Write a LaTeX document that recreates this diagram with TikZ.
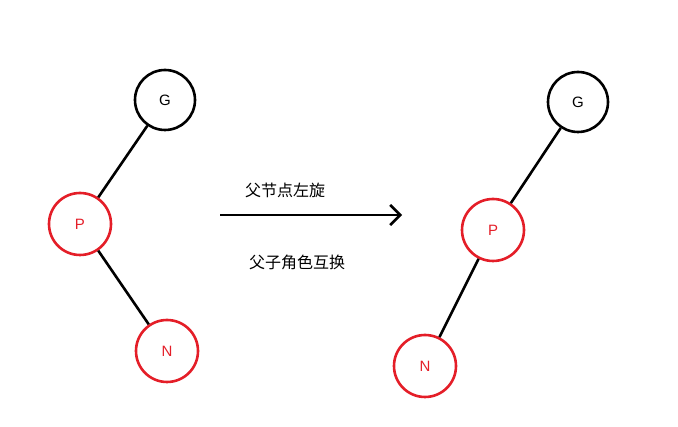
\documentclass[tikz,border=0pt]{standalone}
\usetikzlibrary{arrows.meta}
\usepackage{fontspec}
\setmainfont{Liberation Sans}
\newfontfamily\cjk{Noto Sans CJK SC}
\definecolor{rd}{RGB}{228,30,40}
\begin{document}
\begin{tikzpicture}[x=1pt,y=-1pt,
  bk/.style={circle,draw=black,line width=2.6pt,minimum size=60pt,inner sep=0pt,font=\fontsize{15}{15}\selectfont},
  rn/.style={circle,draw=rd,line width=2.6pt,minimum size=62pt,inner sep=0pt,text=rd,font=\fontsize{15}{15}\selectfont},
  edge/.style={line width=2.6pt},
  lab/.style={font=\cjk\fontsize{16}{16}\selectfont}]
\useasboundingbox (0,0) rectangle (678,427);
\node[bk] (g1) at (165,100) {G};
\node[rn] (p1) at (80,224) {P};
\node[rn] (n1) at (167,351) {N};
\draw[edge] (g1) -- (p1);
\draw[edge] (p1) -- (n1);
\node[bk] (g2) at (578,102) {G};
\node[rn] (p2) at (493,230) {P};
\node[rn] (n2) at (425,366) {N};
\draw[edge] (g2) -- (p2);
\draw[edge] (p2) -- (n2);
\coordinate (a1) at (220,215);
\coordinate (a2) at (402,215);
\draw[line width=2.6pt,-{Straight Barb[length=10pt,width=20pt]}] (a1) -- (a2);
\node[lab] (t1) at (285,190) {父节点左旋};
\node[lab] (t2) at (297,262) {父子角色互换};
\end{tikzpicture}
\end{document}
